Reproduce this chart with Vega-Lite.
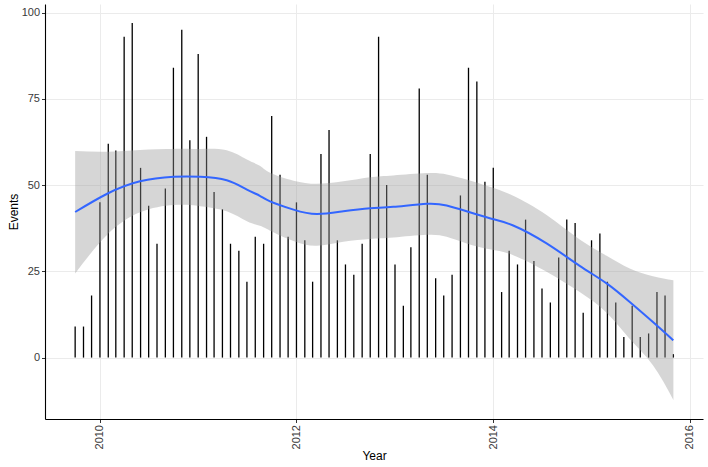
{
  "$schema": "https://vega.github.io/schema/vega-lite/v6.json",
  "width": 658,
  "height": 415,
  "autosize": {"type": "none"},
  "padding": {"left": 45, "top": 4, "right": 5, "bottom": 48},
  "background": "white",
  "config": {
    "view": {"stroke": null},
    "font": "Liberation Sans",
    "axis": {
      "domainColor": "#000000",
      "domainWidth": 1.1,
      "tickColor": "#333333",
      "tickSize": 3.5,
      "tickWidth": 1,
      "labelFont": "Liberation Sans",
      "labelFontSize": 11,
      "labelColor": "#3a3a3a",
      "labelPadding": 2,
      "titleFont": "Liberation Sans",
      "titleFontSize": 12,
      "titleFontWeight": "normal",
      "titleColor": "#000000",
      "gridColor": "#ebebeb",
      "gridWidth": 1
    }
  },
  "datasets": {
    "monthly": [
      {"month": "2009-10-01", "events": 9},
      {"month": "2009-11-01", "events": 9},
      {"month": "2009-12-01", "events": 18},
      {"month": "2010-01-01", "events": 45},
      {"month": "2010-02-01", "events": 62},
      {"month": "2010-03-01", "events": 60},
      {"month": "2010-04-01", "events": 93},
      {"month": "2010-05-01", "events": 97},
      {"month": "2010-06-01", "events": 55},
      {"month": "2010-07-01", "events": 44},
      {"month": "2010-08-01", "events": 33},
      {"month": "2010-09-01", "events": 49},
      {"month": "2010-10-01", "events": 84},
      {"month": "2010-11-01", "events": 95},
      {"month": "2010-12-01", "events": 63},
      {"month": "2011-01-01", "events": 88},
      {"month": "2011-02-01", "events": 64},
      {"month": "2011-03-01", "events": 48},
      {"month": "2011-04-01", "events": 43},
      {"month": "2011-05-01", "events": 33},
      {"month": "2011-06-01", "events": 31},
      {"month": "2011-07-01", "events": 22},
      {"month": "2011-08-01", "events": 35},
      {"month": "2011-09-01", "events": 33},
      {"month": "2011-10-01", "events": 70},
      {"month": "2011-11-01", "events": 53},
      {"month": "2011-12-01", "events": 35},
      {"month": "2012-01-01", "events": 45},
      {"month": "2012-02-01", "events": 34},
      {"month": "2012-03-01", "events": 22},
      {"month": "2012-04-01", "events": 59},
      {"month": "2012-05-01", "events": 66},
      {"month": "2012-06-01", "events": 34},
      {"month": "2012-07-01", "events": 27},
      {"month": "2012-08-01", "events": 24},
      {"month": "2012-09-01", "events": 33},
      {"month": "2012-10-01", "events": 59},
      {"month": "2012-11-01", "events": 93},
      {"month": "2012-12-01", "events": 50},
      {"month": "2013-01-01", "events": 27},
      {"month": "2013-02-01", "events": 15},
      {"month": "2013-03-01", "events": 32},
      {"month": "2013-04-01", "events": 78},
      {"month": "2013-05-01", "events": 53},
      {"month": "2013-06-01", "events": 23},
      {"month": "2013-07-01", "events": 18},
      {"month": "2013-08-01", "events": 24},
      {"month": "2013-09-01", "events": 47},
      {"month": "2013-10-01", "events": 84},
      {"month": "2013-11-01", "events": 80},
      {"month": "2013-12-01", "events": 51},
      {"month": "2014-01-01", "events": 55},
      {"month": "2014-02-01", "events": 19},
      {"month": "2014-03-01", "events": 31},
      {"month": "2014-04-01", "events": 27},
      {"month": "2014-05-01", "events": 40},
      {"month": "2014-06-01", "events": 28},
      {"month": "2014-07-01", "events": 20},
      {"month": "2014-08-01", "events": 16},
      {"month": "2014-09-01", "events": 29},
      {"month": "2014-10-01", "events": 40},
      {"month": "2014-11-01", "events": 39},
      {"month": "2014-12-01", "events": 13},
      {"month": "2015-01-01", "events": 34},
      {"month": "2015-02-01", "events": 36},
      {"month": "2015-03-01", "events": 22},
      {"month": "2015-04-01", "events": 16},
      {"month": "2015-05-01", "events": 6},
      {"month": "2015-06-01", "events": 15},
      {"month": "2015-07-01", "events": 6},
      {"month": "2015-08-01", "events": 7},
      {"month": "2015-09-01", "events": 19},
      {"month": "2015-10-01", "events": 18},
      {"month": "2015-11-01", "events": 1}
    ],
    "smooth": [
      {"date": "2009-10-01", "fit": 42.2, "lo": 24.4, "hi": 59.9},
      {"date": "2010-01-28", "fit": 47.5, "lo": 35.6, "hi": 59.7},
      {"date": "2010-05-30", "fit": 51.1, "lo": 42.1, "hi": 60.2},
      {"date": "2010-10-02", "fit": 52.4, "lo": 44.2, "hi": 60.5},
      {"date": "2011-01-09", "fit": 52.4, "lo": 43.9, "hi": 60.5},
      {"date": "2011-04-17", "fit": 51.4, "lo": 42.4, "hi": 60.1},
      {"date": "2011-07-01", "fit": 48.7, "lo": 39.5, "hi": 57.4},
      {"date": "2011-08-18", "fit": 46.9, "lo": 38.2, "hi": 55.6},
      {"date": "2011-09-25", "fit": 45.3, "lo": 36.8, "hi": 53.6},
      {"date": "2011-12-21", "fit": 42.9, "lo": 33.8, "hi": 51.3},
      {"date": "2012-03-16", "fit": 41.6, "lo": 32.4, "hi": 50.4},
      {"date": "2012-06-23", "fit": 42.4, "lo": 33.6, "hi": 51.1},
      {"date": "2012-10-01", "fit": 43.3, "lo": 34.4, "hi": 52.3},
      {"date": "2012-12-26", "fit": 43.7, "lo": 34.8, "hi": 52.8},
      {"date": "2013-04-29", "fit": 44.6, "lo": 35.6, "hi": 53.5},
      {"date": "2013-07-12", "fit": 44.1, "lo": 35.0, "hi": 53.1},
      {"date": "2013-09-24", "fit": 42.4, "lo": 33.1, "hi": 51.6},
      {"date": "2013-12-19", "fit": 40.4, "lo": 31.4, "hi": 49.5},
      {"date": "2014-03-16", "fit": 38.3, "lo": 29.7, "hi": 46.9},
      {"date": "2014-07-18", "fit": 33.1, "lo": 24.9, "hi": 41.3},
      {"date": "2014-11-18", "fit": 26.6, "lo": 19.0, "hi": 34.2},
      {"date": "2015-02-26", "fit": 21.5, "lo": 13.0, "hi": 29.5},
      {"date": "2015-05-23", "fit": 16.1, "lo": 5.4, "hi": 25.8},
      {"date": "2015-08-17", "fit": 10.3, "lo": -2.2, "hi": 23.6},
      {"date": "2015-11-01", "fit": 5.0, "lo": -12.3, "hi": 22.4}
    ]
  },
  "layer": [
    {
      "data": {"name": "monthly"},
      "mark": {"type": "rule", "color": "#000000", "strokeWidth": 1.3},
      "encoding": {
        "x": {
          "field": "month",
          "type": "temporal",
          "scale": {"type": "utc", "domain": [{"year": 2009, "month": 6, "date": 11, "utc": true}, {"year": 2016, "month": 2, "date": 19, "utc": true}]},
          "axis": {
            "title": "Year",
            "titlePadding": 2,
            "values": [
              {"year": 2010, "month": 1, "date": 1, "utc": true},
              {"year": 2012, "month": 1, "date": 1, "utc": true},
              {"year": 2014, "month": 1, "date": 1, "utc": true},
              {"year": 2016, "month": 1, "date": 1, "utc": true}
            ],
            "format": "%Y",
            "labelAngle": 270,
            "grid": true
          }
        },
        "y": {
          "field": "events",
          "type": "quantitative",
          "scale": {"domain": [-17.8, 102.5], "nice": false, "zero": false},
          "axis": {
            "title": "Events",
            "titlePadding": 1,
            "values": [0, 25, 50, 75, 100],
            "grid": true
          }
        },
        "y2": {"datum": 0}
      }
    },
    {
      "data": {"name": "smooth"},
      "mark": {"type": "area", "color": "#999999", "opacity": 0.4, "interpolate": "natural"},
      "encoding": {
        "x": {"field": "date", "type": "temporal"},
        "y": {"field": "lo", "type": "quantitative"},
        "y2": {"field": "hi"}
      }
    },
    {
      "data": {"name": "smooth"},
      "mark": {"type": "line", "color": "#3366FF", "strokeWidth": 2, "interpolate": "natural"},
      "encoding": {
        "x": {"field": "date", "type": "temporal"},
        "y": {"field": "fit", "type": "quantitative"}
      }
    }
  ]
}
